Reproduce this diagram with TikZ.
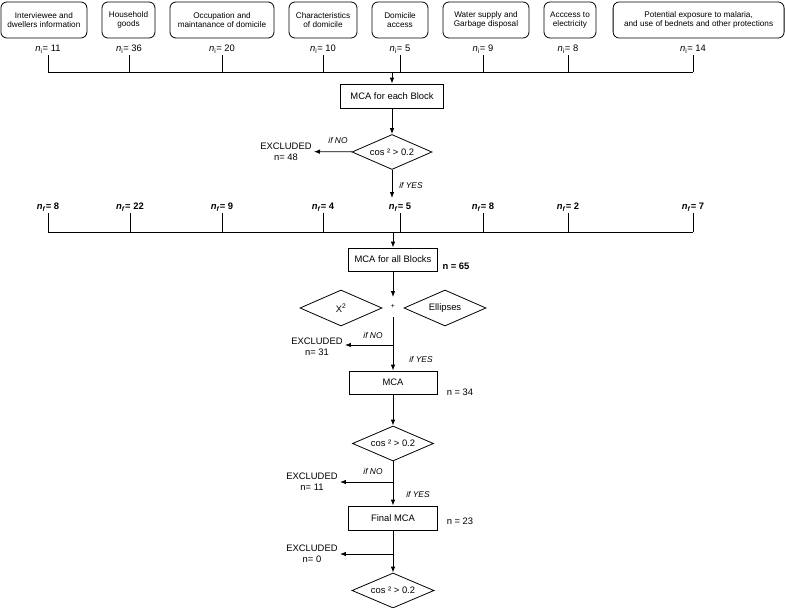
\documentclass[tikz,border=0pt]{standalone}
\usepackage{fontspec}
\setmainfont{Liberation Sans}
\usetikzlibrary{shapes.geometric,arrows.meta}

\tikzset{
  rbox/.style={draw, rounded corners=6pt, align=center, minimum height=36pt, inner sep=2pt, font=\fontsize{8.2}{9.4}\selectfont},
  sbox/.style={draw, align=center, minimum height=24pt, inner sep=2pt},
  test/.style={draw, diamond, shape aspect=2.3, minimum width=81pt, minimum height=35pt, inner sep=1pt},
  cnt/.style={inner sep=1.5pt},
  lbl/.style={inner sep=1pt, font=\fontsize{8.4}{9}\selectfont\itshape},
  excl/.style={align=center, inner sep=2pt, font=\fontsize{9.4}{10.6}\selectfont},
  arr/.style={-{Latex[length=6pt,width=4.5pt]}}
}

\begin{document}
\begin{tikzpicture}[x=1pt, y=-1pt, line width=0.8pt, font=\fontsize{9.4}{10.6}\selectfont]

\useasboundingbox (0,0) rectangle (785,608);

\node[rbox, minimum width=86pt] (b1) at (43.9,20) {Interviewee and\\dwellers information};
\node[rbox, minimum width=53pt] (b2) at (128.5,20) {Household\\goods};
\node[rbox, minimum width=104pt] (b3) at (222,20) {Occupation and\\maintanance of domicile};
\node[rbox, minimum width=68pt] (b4) at (323,20) {Characteristics\\of domicile};
\node[rbox, minimum width=56pt] (b5) at (400,20) {Domicile\\access};
\node[rbox, minimum width=86pt] (b6) at (486,20) {Water supply and\\Garbage disposal};
\node[rbox, minimum width=52pt] (b7) at (570,20) {Acccess to\\electricity};
\node[rbox, minimum width=171pt] (b8) at (698.6,20) {Potential exposure to malaria,\\and use of bednets and other protections};

\coordinate (busA) at (392,72);
\foreach \x/\v [count=\i] in {48/11,129/36,222/20,323/10,400/5,483/9,568/8,693/14}{
  \node[cnt] (ni\i) at (\x,49) {\textit{n}\textsubscript{i}= \v};
  \draw (ni\i.south) -- (ni\i.south |- busA);
}
\draw (ni1.south |- busA) -- (ni8.south |- busA);

\node[sbox, minimum width=103pt] (mcaeach) at (392,96) {MCA for each Block};
\draw[arr] (busA) -- (mcaeach);

\node[test, minimum width=80pt] (cos1) at (392,152) {cos ² > 0.2};
\draw[arr] (mcaeach) -- (cos1);
\node[excl] (exc1) at (286,151.5) {EXCLUDED\\n= 48};
\draw[arr] (cos1) -- (exc1);
\node[lbl] (no1) at (338,140) {if NO};
\coordinate (yesA) at (392,198);
\draw[arr] (cos1) -- (yesA);
\node[lbl] (yes1) at (411,185) {if YES};

\coordinate (busB) at (393,232);
\foreach \x/\v [count=\i] in {48/8,130/22,222/9,323/4,400/5,483/8,568/2,693/7}{
  \node[cnt] (nf\i) at (\x,207) {\bfseries\textit{n}\textsubscript{\textit{f}}= \v};
  \draw (nf\i.south) -- (nf\i.south |- busB);
}
\draw (nf1.south |- busB) -- (nf8.south |- busB);

\node[sbox, minimum width=89pt, minimum height=23pt] (mcaall) at (393,259.5) {MCA for all Blocks};
\draw[arr] (busB) -- (mcaall);
\node[cnt] (n65) at (456,266) {\textbf{n = 65}};

\coordinate (plusin) at (393,297);
\draw[arr] (mcaall) -- (plusin);
\node[inner sep=1pt, font=\fontsize{7}{8}\selectfont] (plus) at (393,306) {+};
\node[test, minimum width=82pt, minimum height=36pt] (chi) at (341,308) {X\textsuperscript{2}};
\node[test, minimum width=82pt, minimum height=36pt] (ell) at (445,308) {Ellipses};

\coordinate (plusout) at (393,317);
\coordinate (br2) at (393,345);
\node[sbox, minimum width=88pt, minimum height=23pt] (mca) at (393,382.5) {MCA};
\draw[arr] (plusout) -- (mca);
\node[excl] (exc2) at (317,346.5) {EXCLUDED\\n= 31};
\draw[arr] (br2) -- (br2 -| exc2.east);
\node[lbl] (no2) at (373,335) {if NO};
\node[lbl] (yes2) at (421,359) {if YES};
\node[cnt] (n34) at (460,392) {n = 34};

\node[test] (cos2) at (393,443.5) {cos ² > 0.2};
\draw[arr] (mca) -- (cos2);

\coordinate (br3) at (393,482);
\node[sbox, minimum width=89pt] (final) at (393,518) {Final MCA};
\draw[arr] (cos2) -- (final);
\node[excl] (exc3) at (312,482) {EXCLUDED\\n= 11};
\draw[arr] (br3) -- (br3 -| exc3.east);
\node[lbl] (no3) at (373,471) {if NO};
\node[lbl] (yes3) at (418,494) {if YES};
\node[cnt] (n23) at (460,521) {n = 23};

\coordinate (br4) at (393,554);
\node[test, minimum width=82pt] (cos3) at (393,590.5) {cos ² > 0.2};
\draw[arr] (final) -- (cos3);
\node[excl] (exc4) at (312,554) {EXCLUDED\\n= 0};
\draw[arr] (br4) -- (br4 -| exc4.east);

\end{tikzpicture}
\end{document}
